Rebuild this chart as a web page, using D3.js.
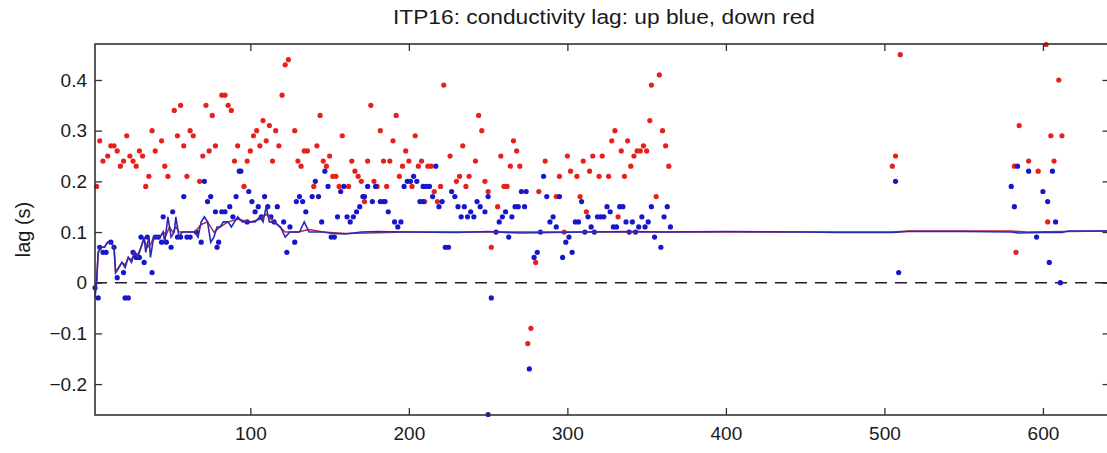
<!DOCTYPE html>
<html>
<head>
<meta charset="utf-8">
<script src="https://cdn.jsdelivr.net/npm/d3@7"></script>
<style>
  body { margin: 0; background: #fff; }
  text { font-family: "Liberation Sans", Arial, Helvetica, sans-serif; fill: #1a1a1a; }
</style>
</head>
<body>
<svg id="chart"></svg>
<script>
// profile number vs lag
let downPoints = [[3,0.19],[5,0.28],[7,0.24],[10,0.25],[12,0.27],[14,0.27],[16,0.26],[18,0.23],[20,0.24],[22,0.29],[24,0.25],[26,0.24],[28,0.23],[30,0.26],[32,0.25],[34,0.19],[36,0.21],[38,0.30],[40,0.26],[44,0.28],[46,0.23],[48,0.21],[52,0.34],[54,0.29],[56,0.35],[58,0.27],[60,0.21],[62,0.30],[64,0.29],[68,0.20],[70,0.25],[72,0.35],[74,0.26],[76,0.33],[78,0.27],[82,0.37],[84,0.37],[86,0.35],[88,0.34],[90,0.24],[92,0.27],[96,0.19],[98,0.24],[100,0.26],[102,0.29],[104,0.30],[106,0.27],[108,0.32],[110,0.28],[112,0.31],[114,0.24],[116,0.30],[118,0.27],[120,0.37],[122,0.43],[124,0.44],[128,0.30],[130,0.24],[132,0.23],[134,0.26],[136,0.26],[140,0.19],[142,0.27],[144,0.33],[146,0.24],[148,0.23],[150,0.25],[152,0.21],[154,0.21],[156,0.19],[158,0.29],[162,0.19],[164,0.24],[166,0.22],[168,0.21],[170,0.20],[172,0.16],[174,0.24],[176,0.35],[178,0.20],[180,0.19],[182,0.30],[184,0.24],[186,0.19],[188,0.24],[190,0.28],[192,0.33],[194,0.21],[196,0.23],[198,0.26],[200,0.24],[202,0.19],[204,0.29],[206,0.23],[208,0.24],[210,0.16],[212,0.23],[214,0.23],[216,0.18],[218,0.16],[220,0.19],[222,0.39],[226,0.25],[230,0.20],[232,0.21],[234,0.27],[236,0.19],[238,0.21],[242,0.24],[244,0.33],[246,0.30],[248,0.20],[250,0.18],[252,0.07],[256,0.15],[258,0.25],[260,0.19],[262,0.19],[264,0.23],[266,0.28],[268,0.26],[270,0.23],[275,-0.12],[277,-0.09],[280,0.04],[282,0.18],[286,0.24],[293,0.17],[295,0.21],[298,0.10],[300,0.25],[302,0.22],[306,0.21],[308,0.17],[310,0.24],[312,0.14],[314,0.22],[316,0.25],[320,0.21],[322,0.25],[326,0.21],[328,0.28],[330,0.30],[332,0.13],[334,0.26],[336,0.21],[338,0.28],[340,0.23],[342,0.25],[344,0.26],[346,0.26],[348,0.27],[350,0.26],[352,0.32],[353,0.39],[356,0.17],[358,0.41],[360,0.30],[362,0.27],[364,0.23],[505,0.23],[507,0.25],[510,0.45],[582,0.23],[583,0.06],[585,0.31],[591,0.24],[597,0.22],[602,0.47],[603,0.12],[605,0.29],[607,0.24],[610,0.40],[612,0.29]];

let upPoints = [[2,-0.01],[4,-0.03],[5,0.07],[7,0.06],[9,0.06],[12,0.08],[14,0.07],[16,0.01],[20,0.02],[21,-0.03],[23,-0.03],[26,0.06],[28,0.05],[30,0.05],[31,0.09],[33,0.04],[35,0.09],[38,0.02],[40,0.09],[42,0.09],[44,0.08],[45,0.13],[47,0.08],[50,0.07],[51,0.14],[54,0.09],[56,0.09],[58,0.17],[60,0.09],[62,0.09],[66,0.10],[69,0.08],[71,0.20],[73,0.16],[75,0.17],[78,0.14],[79,0.07],[80,0.08],[82,0.14],[84,0.14],[87,0.15],[89,0.13],[91,0.17],[93,0.22],[94,0.22],[98,0.12],[99,0.18],[101,0.16],[103,0.14],[105,0.15],[107,0.13],[109,0.17],[111,0.15],[113,0.13],[115,0.12],[117,0.15],[121,0.12],[123,0.06],[125,0.11],[128,0.08],[129,0.16],[131,0.17],[133,0.16],[135,0.14],[139,0.17],[141,0.20],[143,0.17],[145,0.12],[147,0.22],[149,0.19],[151,0.09],[153,0.09],[155,0.13],[157,0.18],[159,0.19],[161,0.13],[163,0.12],[165,0.13],[167,0.14],[169,0.15],[171,0.17],[172,0.17],[174,0.19],[177,0.16],[179,0.19],[182,0.16],[184,0.16],[185,0.16],[187,0.14],[191,0.12],[193,0.11],[195,0.12],[197,0.19],[199,0.20],[201,0.20],[203,0.21],[205,0.20],[207,0.16],[209,0.16],[209,0.19],[211,0.19],[213,0.19],[215,0.17],[217,0.23],[219,0.15],[221,0.16],[223,0.07],[225,0.07],[227,0.18],[229,0.17],[231,0.15],[233,0.13],[235,0.15],[237,0.13],[239,0.14],[241,0.13],[243,0.16],[245,0.15],[248,0.14],[250,0.17],[250,-0.26],[252,-0.03],[255,0.10],[257,0.12],[259,0.13],[261,0.14],[263,0.09],[265,0.13],[267,0.15],[269,0.15],[271,0.18],[273,0.15],[274,0.18],[276,-0.17],[279,0.05],[281,0.06],[283,0.10],[285,0.21],[287,0.17],[289,0.12],[291,0.13],[293,0.11],[295,0.17],[297,0.05],[299,0.08],[301,0.09],[303,0.06],[305,0.12],[307,0.12],[309,0.16],[311,0.10],[313,0.13],[315,0.11],[317,0.10],[319,0.13],[321,0.13],[323,0.13],[325,0.15],[327,0.14],[329,0.11],[331,0.11],[333,0.15],[335,0.15],[337,0.12],[339,0.10],[341,0.12],[343,0.10],[345,0.11],[347,0.13],[349,0.11],[351,0.12],[353,0.15],[355,0.09],[359,0.07],[361,0.13],[363,0.15],[365,0.11],[507,0.20],[509,0.02],[580,0.19],[582,0.15],[584,0.23],[591,0.22],[596,0.09],[600,0.18],[603,0.16],[604,0.04],[606,0.22],[608,0.12],[611,0.00]];

// running lag estimates (down drawn first, mostly hidden under up)
let downLine = [[2,-0.02],[3,0.0],[4,0.06],[6,0.07],[8,0.07],[10,0.08],[12,0.08],[14,0.07],[15,0.02],[17,0.03],[19,0.04],[21,0.035],[23,0.05],[25,0.045],[27,0.06],[29,0.055],[31,0.07],[33,0.085],[35,0.07],[37,0.075],[39,0.09],[41,0.09],[43,0.09],[45,0.10],[47,0.095],[49,0.11],[51,0.10],[53,0.11],[55,0.10],[60,0.10],[65,0.10],[69,0.115],[73,0.12],[77,0.10],[81,0.11],[86,0.12],[92,0.125],[100,0.12],[106,0.125],[110,0.135],[115,0.12],[122,0.10],[130,0.10],[137,0.105],[146,0.10],[160,0.097],[200,0.10],[300,0.10],[400,0.10],[505,0.10],[515,0.102],[580,0.102],[590,0.10],[642,0.102]];

let upLine = [[2,-0.03],[3,0.0],[4,0.06],[6,0.07],[8,0.07],[10,0.08],[12,0.08],[14,0.07],[15,0.02],[17,0.03],[19,0.04],[21,0.03],[23,0.05],[25,0.04],[27,0.06],[29,0.05],[31,0.07],[33,0.09],[34,0.06],[36,0.09],[37,0.05],[39,0.09],[41,0.09],[43,0.09],[45,0.10],[46,0.08],[48,0.13],[50,0.09],[52,0.10],[53,0.13],[55,0.09],[57,0.10],[59,0.10],[61,0.10],[63,0.10],[65,0.10],[67,0.09],[69,0.12],[71,0.13],[73,0.12],[75,0.08],[77,0.09],[79,0.11],[81,0.11],[83,0.12],[86,0.12],[88,0.11],[90,0.12],[92,0.13],[95,0.12],[97,0.12],[100,0.12],[103,0.12],[106,0.13],[108,0.12],[110,0.15],[112,0.12],[115,0.12],[119,0.11],[122,0.09],[125,0.10],[128,0.10],[131,0.10],[134,0.12],[137,0.10],[141,0.10],[146,0.10],[152,0.097],[160,0.096],[170,0.10],[180,0.101],[200,0.10],[230,0.099],[250,0.101],[270,0.098],[290,0.099],[310,0.10],[340,0.101],[360,0.10],[400,0.101],[450,0.10],[470,0.099],[505,0.099],[515,0.101],[550,0.101],[580,0.100],[585,0.098],[600,0.099],[612,0.099],[616,0.102],[642,0.102]];

let xTicks = [100, 200, 300, 400, 500, 600];
let yTicks = [-0.2, -0.1, 0, 0.1, 0.2, 0.3, 0.4];

let margin = { top: 44, right: -2.5, bottom: 38, left: 95 };
let W = 1107, H = 453;
let width = W - margin.left - margin.right;
let height = H - margin.top - margin.bottom;

let x = d3.scaleLinear().domain([2, 642]).range([0, width]);
let y = d3.scaleLinear().domain([-0.261, 0.471]).range([height, 0]);

let svg = d3.select("#chart")
  .attr("width", W)
  .attr("height", H);

let g = svg.append("g")
  .attr("transform", "translate(" + margin.left + "," + margin.top + ")");

// zero line
g.append("line")
  .attr("x1", 0).attr("x2", width)
  .attr("y1", y(0)).attr("y2", y(0))
  .attr("stroke", "#222")
  .attr("stroke-width", 1.4)
  .attr("stroke-dasharray", "12,8");

// dots
g.selectAll(".down").data(downPoints)
  .enter().append("circle")
  .attr("class", "down")
  .attr("cx", d => x(d[0]))
  .attr("cy", d => y(d[1]))
  .attr("r", 2.6)
  .attr("fill", "#e8201c");

g.selectAll(".up").data(upPoints)
  .enter().append("circle")
  .attr("class", "up")
  .attr("cx", d => x(d[0]))
  .attr("cy", d => y(d[1]))
  .attr("r", 2.6)
  .attr("fill", "#1616cc");

let line = d3.line().x(d => x(d[0])).y(d => y(d[1]));

g.append("path").datum(downLine)
  .attr("d", line)
  .attr("fill", "none")
  .attr("stroke", "#b0284a")
  .attr("stroke-width", 1.5);

g.append("path").datum(upLine)
  .attr("d", line)
  .attr("fill", "none")
  .attr("stroke", "#2a2ab8")
  .attr("stroke-width", 1.6);

// axes, ticks inward on all four sides
let axisColor = "#333";
function styleAxis(sel) {
  sel.select(".domain").remove();
  sel.selectAll(".tick line").attr("stroke", axisColor).attr("stroke-width", 1.3);
  sel.selectAll(".tick text").style("font-size", "19px").attr("fill", "#1a1a1a");
}

g.append("g")
  .attr("transform", "translate(0," + height + ")")
  .call(d3.axisBottom(x).tickValues(xTicks).tickSize(-7).tickPadding(12).tickFormat(d3.format("d")))
  .call(styleAxis);

g.append("g")
  .call(d3.axisTop(x).tickValues(xTicks).tickSize(-7).tickFormat(""))
  .call(styleAxis);

g.append("g")
  .call(d3.axisLeft(y).tickValues(yTicks).tickSize(-7).tickPadding(8)
    .tickFormat(d => d === 0 ? "0" : d3.format(".1f")(d).replace("-", "\u2013")))
  .call(styleAxis);

g.append("g")
  .attr("transform", "translate(" + width + ",0)")
  .call(d3.axisRight(y).tickValues(yTicks).tickSize(-7).tickFormat(""))
  .call(styleAxis);

g.append("rect")
  .attr("width", width).attr("height", height)
  .attr("fill", "none")
  .attr("stroke", axisColor)
  .attr("stroke-width", 1.6);

// title and y label
svg.append("text")
  .attr("x", 393)
  .attr("y", 24)
  .attr("textLength", 422)
  .attr("lengthAdjust", "spacingAndGlyphs")
  .style("font-size", "20px")
  .text("ITP16: conductivity lag: up blue, down red");

svg.append("text")
  .attr("transform", "translate(30," + (margin.top + height / 2) + ") rotate(-90)")
  .attr("text-anchor", "middle")
  .style("font-size", "20px")
  .text("lag (s)");
</script>
</body>
</html>
